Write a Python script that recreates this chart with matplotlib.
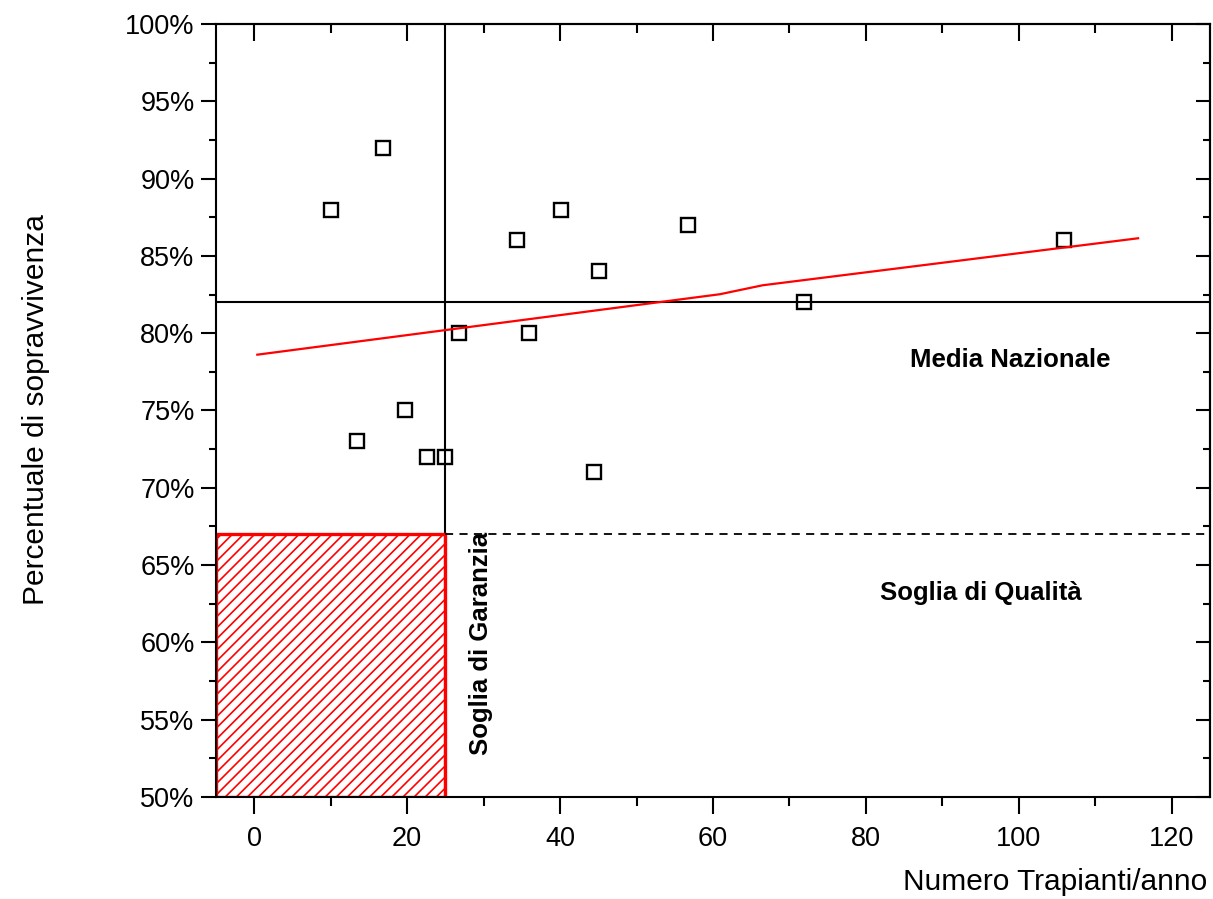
import matplotlib
matplotlib.use("Agg")
import matplotlib.pyplot as plt
from matplotlib.patches import Rectangle
from matplotlib.ticker import MultipleLocator, FuncFormatter

plt.rcParams['font.family'] = ['Liberation Sans', 'DejaVu Sans']
plt.rcParams['hatch.linewidth'] = 1.2
plt.rcParams['hatch.color'] = 'red'

# Data
trapianti = [10, 13.5, 16.9, 19.7, 22.6, 25.0, 26.8, 34.4, 35.9, 40.1, 44.4, 45.1, 56.7, 71.9, 105.9]
sopravvivenza = [88, 73, 92, 75, 72, 72, 80, 86, 80, 88, 71, 84, 87, 82, 86]

trend_x = [0.4, 60.9, 66.5, 115.6]
trend_y = [78.61, 82.52, 83.1, 86.14]

media_nazionale = 82
soglia_qualita = 67
soglia_garanzia = 25

x_min, x_max = -5, 125
y_min, y_max = 50, 100

fig = plt.figure(figsize=(12.13, 8.99), dpi=100)
ax = fig.add_axes([0.1781, 0.1135, 0.8194, 0.8598])

# hatched area
ax.add_patch(Rectangle((x_min, y_min), soglia_garanzia - x_min, soglia_qualita - y_min,
                       facecolor='none', edgecolor='red', hatch='///', linewidth=2.4, zorder=2))

ax.axhline(media_nazionale, color='black', lw=1.5, zorder=3)
ax.axvline(soglia_garanzia, color='black', lw=1.5, zorder=1.5)
ax.plot([soglia_garanzia, x_max], [soglia_qualita, soglia_qualita], color='black', lw=1.3,
        linestyle=(0, (4.5, 3.5)), zorder=3)

ax.plot(trapianti, sopravvivenza, linestyle='none', marker='s', markersize=10,
        markerfacecolor='none', markeredgecolor='black', markeredgewidth=1.7, zorder=4)
ax.plot(trend_x, trend_y, color='red', lw=1.6, zorder=5)

ax.text(98.9, 78.27, 'Media Nazionale', fontsize=18.5, fontweight='bold', ha='center', va='center')
ax.text(95.0, 63.18, 'Soglia di Qualità', fontsize=18.5, fontweight='bold', ha='center', va='center')
ax.text(29.6, 59.9, 'Soglia di Garanzia', fontsize=18.5, fontweight='bold', ha='center', va='center',
        rotation=90)

ax.set_xlim(x_min, x_max)
ax.set_ylim(y_min, y_max)
ax.xaxis.set_major_locator(MultipleLocator(20))
ax.xaxis.set_minor_locator(MultipleLocator(10))
ax.yaxis.set_major_locator(MultipleLocator(5))
ax.yaxis.set_minor_locator(MultipleLocator(2.5))
ax.yaxis.set_major_formatter(FuncFormatter(lambda v, p: f'{v:.0f}%'))

for s in ax.spines.values():
    s.set_linewidth(1.5)

ax.tick_params(axis='x', which='major', direction='out', length=12, width=1.5, labelsize=19.5, pad=9)
ax.tick_params(axis='x', which='minor', direction='out', length=6.7, width=1.5)
ax.tick_params(axis='y', which='major', direction='out', length=10.5, width=1.5, labelsize=19.5, pad=5)
ax.tick_params(axis='y', which='minor', direction='out', length=5, width=1.5)

top = ax.secondary_xaxis('top')
top.xaxis.set_major_locator(MultipleLocator(20))
top.xaxis.set_minor_locator(MultipleLocator(10))
top.tick_params(which='major', direction='in', length=12, width=1.5, labeltop=False)
top.tick_params(which='minor', direction='in', length=6.7, width=1.5)
top.spines['top'].set_linewidth(1.5)

right = ax.secondary_yaxis('right')
right.yaxis.set_major_locator(MultipleLocator(5))
right.yaxis.set_minor_locator(MultipleLocator(2.5))
right.tick_params(which='major', direction='in', length=10.3, width=1.5, labelright=False)
right.tick_params(which='minor', direction='in', length=4.8, width=1.5)
right.spines['right'].set_linewidth(1.5)

fig.text(1207 / 1213, 1 - 882 / 899, 'Numero Trapianti/anno', fontsize=21.5, ha='right', va='center')
fig.text(36 / 1213, 1 - 410 / 899, 'Percentuale di sopravvivenza', fontsize=21.5, ha='center',
         va='center', rotation=90)

fig.savefig('out.png', dpi=100)
